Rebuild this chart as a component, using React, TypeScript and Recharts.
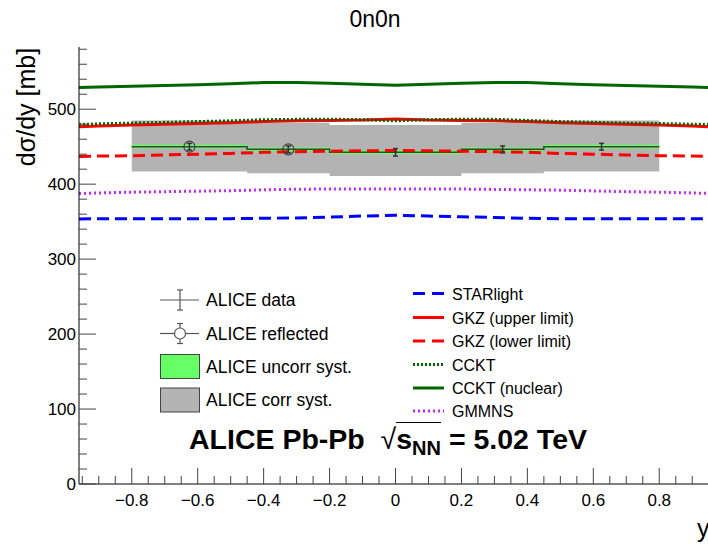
import React from "react";
import { Area, ComposedChart, ErrorBar, Line, Scatter, XAxis, YAxis } from "recharts";

// rapidity grid for the model curves
const rapidity = [-0.96, -0.9, -0.8, -0.7, -0.6, -0.5, -0.4, -0.3, -0.2, -0.1, 0, 0.1, 0.2, 0.3, 0.4, 0.5, 0.6, 0.7, 0.8, 0.9, 0.96];
const starlight = [353.5, 354, 354, 354, 354, 354, 354.5, 355, 356, 357.5, 358.5, 357.5, 356.5, 355.5, 354.5, 354, 354, 354, 354, 354, 353.5];
const gkzUpper = [476.5, 477.5, 479, 480, 481, 482, 483.5, 484.5, 485, 485.5, 487, 485.5, 485, 484.5, 483.5, 482, 481, 480, 479, 477.5, 476.5];
const gkzLower = [437, 437.5, 438, 439, 440, 441, 442.5, 443.3, 444, 444.5, 445, 444.5, 444, 443.3, 442.5, 441, 440, 439, 438, 437.5, 437];
const cckt = [479.5, 480.5, 481.5, 482.5, 483.5, 484.5, 486, 486.5, 486.7, 486, 484.5, 486, 486.7, 486.5, 485, 483.5, 482.5, 481.5, 481, 480, 479.5];
const ccktNuclear = [529, 529.5, 530.5, 531.5, 532.5, 534, 535.5, 535.5, 534.7, 533.3, 532, 533.3, 534.7, 535.5, 535.5, 534, 532.5, 531.5, 530.5, 529.5, 529];
const gmmns = [387.5, 388.3, 389.3, 390, 390.7, 391.3, 392.5, 393.3, 393.5, 393.5, 393.5, 393.5, 393.5, 393, 392.5, 392, 391, 390, 389.3, 388.3, 387.5];

// ALICE bins (edges) with measured values and systematics
const binEdges = [-0.8, -0.45, -0.2, 0.2, 0.45, 0.8];
const binValues = [450, 446.5, 442.5, 446.5, 450];
const uncorrSyst = [2.5, 2.5, 2.5, 2.5, 2.5];
const corrLow = [417, 414.7, 411, 414.7, 417];
const corrHigh = [485, 482, 479, 482, 485];

// points with statistical errors
const dataY = [0, 0.325, 0.625];
const dataVal = [442.5, 446.5, 450];
const dataStat = [5, 4.5, 4.5];
const reflY = [-0.325, -0.625];
const reflVal = [446.5, 450];
const reflStat = [4.5, 4.5];

const xTicks = [-0.95, -0.9, -0.85, -0.8, -0.75, -0.7, -0.65, -0.6, -0.55, -0.5, -0.45, -0.4, -0.35, -0.3, -0.25, -0.2, -0.15, -0.1, -0.05, 0, 0.05, 0.1, 0.15, 0.2, 0.25, 0.3, 0.35, 0.4, 0.45, 0.5, 0.55, 0.6, 0.65, 0.7, 0.75, 0.8, 0.85, 0.9, 0.95];
const yTicks = [0, 20, 40, 60, 80, 100, 120, 140, 160, 180, 200, 220, 240, 260, 280, 300, 320, 340, 360, 380, 400, 420, 440, 460, 480, 500, 520, 540, 560, 580];

const models = [
  { key: "starlight", name: "STARlight", values: starlight, color: "#0000ff", dash: "12 6" },
  { key: "gkzUpper", name: "GKZ (upper limit)", values: gkzUpper, color: "#ff0000", dash: undefined },
  { key: "gkzLower", name: "GKZ (lower limit)", values: gkzLower, color: "#ff0000", dash: "12 6" },
  { key: "cckt", name: "CCKT", values: cckt, color: "#006600", dash: "2 2" },
  { key: "ccktNuclear", name: "CCKT (nuclear)", values: ccktNuclear, color: "#006600", dash: undefined },
  { key: "gmmns", name: "GMMNS", values: gmmns, color: "#cc22ff", dash: "2 3" },
];

const modelTable = rapidity.map((x, i) => {
  const row: Record<string, number> = { x };
  models.forEach((m) => (row[m.key] = m.values[i]));
  return row;
});

const binTable = binEdges.map((x, i) => {
  const k = Math.min(i, binValues.length - 1);
  return {
    x,
    v: binValues[k],
    uncorr: [binValues[k] - uncorrSyst[k], binValues[k] + uncorrSyst[k]],
    corr: [corrLow[k], corrHigh[k]],
  };
});

const dataTable = dataY.map((x, i) => ({ x, v: dataVal[i], err: dataStat[i] }));
const reflTable = reflY.map((x, i) => ({ x, v: reflVal[i], err: reflStat[i] }));

const FONT = "'Liberation Sans', Arial, Helvetica, sans-serif";

function YTick({ x, y, payload }: any) {
  const v = payload.value;
  const major = v % 100 === 0;
  return (
    <g>
      <line x1={x} x2={x + (major ? 17 : 8)} y1={y} y2={y} stroke="#444" />
      {major ? (
        <text x={x - 3} y={y} dy={6} textAnchor="end" fontSize={17} fontFamily={FONT} fill="#000">
          {v}
        </text>
      ) : null}
    </g>
  );
}

function XTick({ x, y, payload }: any) {
  const v = payload.value;
  const major = Math.round(v * 100) % 20 === 0;
  const label = v === 0 ? "0" : (v < 0 ? "\u2212" : "") + Math.abs(v).toFixed(1);
  return (
    <g>
      <line x1={x} x2={x} y1={y} y2={y - (major ? 16 : 8)} stroke="#444" />
      {major ? (
        <text x={x} y={y + 22} textAnchor="middle" fontSize={17} fontFamily={FONT} fill="#000">
          {label}
        </text>
      ) : null}
    </g>
  );
}

const OpenCircle = (p: any) => (
  <circle cx={p.cx} cy={p.cy} r={5.5} fill="none" stroke="#444" strokeWidth={1.2} />
);
const NoMarker = () => <g />;

export default function App() {
  const leftRows = [300, 333.5, 366.5, 400];
  const rightRows = [293.5, 317.5, 341, 364.5, 388, 411];
  return (
    <div style={{ position: "absolute", left: 0, top: 0, width: 708, height: 544, overflow: "hidden", background: "#fff", fontFamily: FONT }}>
      <ComposedChart width={712} height={544} margin={{ top: 47, right: 0, bottom: 0, left: 0 }}>
        <XAxis
          dataKey="x"
          type="number"
          domain={[-0.96, 0.96]}
          allowDataOverflow
          ticks={xTicks}
          interval={0}
          tick={<XTick />}
          tickLine={false}
          tickSize={0}
          tickMargin={0}
          height={60}
          axisLine={{ stroke: "#000" }}
        />
        <YAxis
          type="number"
          domain={[0, 583]}
          allowDataOverflow
          ticks={yTicks}
          interval={0}
          tick={<YTick />}
          tickLine={false}
          tickSize={0}
          tickMargin={0}
          width={79}
          axisLine={{ stroke: "#000" }}
        />
        <Area data={binTable} dataKey="corr" type="stepAfter" fill="#b3b3b3" fillOpacity={1} stroke="none" isAnimationActive={false} />
        <Area data={binTable} dataKey="uncorr" type="stepAfter" fill="#66ff66" fillOpacity={1} stroke="none" isAnimationActive={false} />
        <Line data={binTable} dataKey="v" type="stepAfter" stroke="#2d4a2d" strokeWidth={1.5} dot={false} isAnimationActive={false} />
        {models.map((m) => (
          <Line
            key={m.key}
            data={modelTable}
            dataKey={m.key}
            type="linear"
            stroke={m.color}
            strokeWidth={3}
            strokeDasharray={m.dash}
            dot={false}
            isAnimationActive={false}
          />
        ))}
        <Scatter data={dataTable} dataKey="v" shape={<NoMarker />} isAnimationActive={false}>
          <ErrorBar dataKey="err" direction="y" width={2.5} stroke="#333" strokeWidth={1.5} />
        </Scatter>
        <Scatter data={reflTable} dataKey="v" shape={<OpenCircle />} isAnimationActive={false}>
          <ErrorBar dataKey="err" direction="y" width={2.5} stroke="#333" strokeWidth={1.5} />
        </Scatter>
      </ComposedChart>

      <svg width={708} height={544} style={{ position: "absolute", left: 0, top: 0, pointerEvents: "none" }}>
        <text x={375} y={27} textAnchor="middle" fontSize={23} fontFamily={FONT}>0n0n</text>
        <text transform="translate(35,107) rotate(-90)" textAnchor="middle" fontSize={25} fontFamily={FONT}>dσ/dy [mb]</text>
        <text x={697} y={537} fontSize={25} fontFamily={FONT}>y</text>

        {/* left legend */}
        <g stroke="#555" strokeWidth={1.2} fill="none">
          <line x1={160} x2={199} y1={leftRows[0]} y2={leftRows[0]} />
          <line x1={180} x2={180} y1={leftRows[0] - 10} y2={leftRows[0] + 10} />
          <line x1={177} x2={183} y1={leftRows[0] - 10} y2={leftRows[0] - 10} />
          <line x1={177} x2={183} y1={leftRows[0] + 10} y2={leftRows[0] + 10} />
          <line x1={160} x2={174} y1={leftRows[1]} y2={leftRows[1]} />
          <line x1={186} x2={199} y1={leftRows[1]} y2={leftRows[1]} />
          <circle cx={180} cy={leftRows[1]} r={5.5} />
          <line x1={180} x2={180} y1={leftRows[1] - 10} y2={leftRows[1] - 5.5} />
          <line x1={180} x2={180} y1={leftRows[1] + 5.5} y2={leftRows[1] + 10} />
          <line x1={177} x2={183} y1={leftRows[1] - 10} y2={leftRows[1] - 10} />
          <line x1={177} x2={183} y1={leftRows[1] + 10} y2={leftRows[1] + 10} />
        </g>
        <rect x={160.5} y={leftRows[2] - 12} width={39} height={24} fill="#66ff66" stroke="#444" />
        <rect x={160.5} y={leftRows[3] - 12} width={39} height={24} fill="#b3b3b3" stroke="#444" />
        {["ALICE data", "ALICE reflected", "ALICE uncorr syst.", "ALICE corr syst."].map((t, i) => (
          <text key={t} x={206} y={leftRows[i] + 6} fontSize={17.5} fontFamily={FONT}>{t}</text>
        ))}

        {/* right legend */}
        {models.map((m, i) => (
          <g key={m.key}>
            <line x1={413} x2={444} y1={rightRows[i]} y2={rightRows[i]} stroke={m.color} strokeWidth={3} strokeDasharray={m.dash ? (m.dash === "12 6" ? "12 7" : m.dash) : undefined} />
            <text x={452} y={rightRows[i] + 6} fontSize={16} fontFamily={FONT}>{m.name}</text>
          </g>
        ))}
      </svg>

      <div style={{ position: "absolute", left: 168, top: 422, width: 440, textAlign: "center", whiteSpace: "nowrap", fontWeight: "bold", fontSize: 28.5, lineHeight: "34px", color: "#000" }}>
        ALICE Pb-Pb&nbsp;&nbsp;<span style={{ fontWeight: "normal" }}>√</span>
        <span style={{ borderTop: "1.5px solid #000" }}>s<span style={{ fontSize: 20, position: "relative", top: 6 }}>NN</span></span>
        {" "}= 5.02 TeV
      </div>
    </div>
  );
}
